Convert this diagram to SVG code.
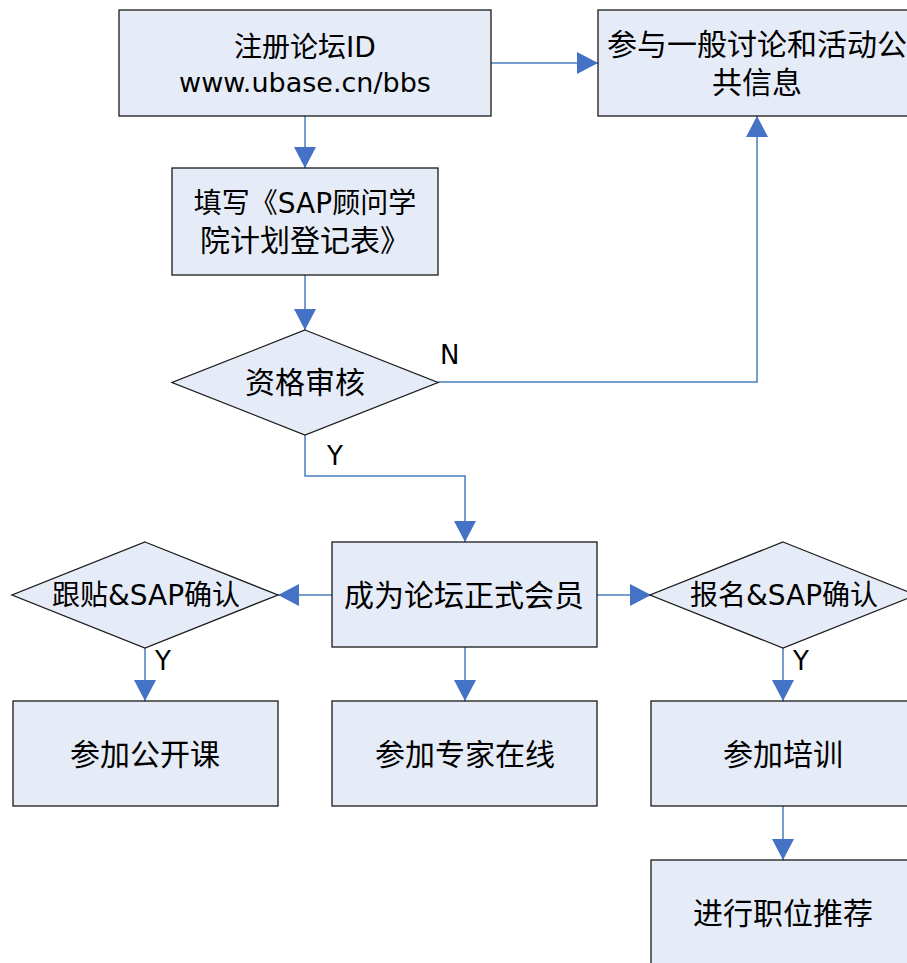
<svg xmlns="http://www.w3.org/2000/svg" width="907" height="963" viewBox="0 0 907 963">
<defs>
<style>
.n{fill:#E6ECF7;stroke:#1a1a1a;stroke-width:1.3}
.t{font-family:"DejaVu Sans","Noto Sans CJK SC",sans-serif;font-size:28px;fill:#000;text-anchor:middle}
.z{font-size:30px}
.c{fill:none;stroke:#4A7EBB;stroke-width:1.5}
.l{font-family:"DejaVu Sans","Noto Sans CJK SC",sans-serif;font-size:26px;fill:#000}
</style>
<marker id="a" markerWidth="22" markerHeight="22" refX="21" refY="11" orient="auto" markerUnits="userSpaceOnUse" viewBox="0 0 22 22">
<path d="M0,0 L21,11 L0,22 Z" fill="#4472C4"/>
</marker>
</defs>
<rect width="907" height="963" fill="#fff"/>
<g id="connectors">
<path class="c" d="M491,63 H598" marker-end="url(#a)"/>
<path class="c" d="M305,116 V168" marker-end="url(#a)"/>
<path class="c" d="M305,275 V330" marker-end="url(#a)"/>
<path class="c" d="M438,382 H757 V116" marker-end="url(#a)"/>
<path class="c" d="M305,435 V476 H465 V542" marker-end="url(#a)"/>
<path class="c" d="M332,595 H278" marker-end="url(#a)"/>
<path class="c" d="M597,595 H651" marker-end="url(#a)"/>
<path class="c" d="M145,648 V701" marker-end="url(#a)"/>
<path class="c" d="M465,647 V701" marker-end="url(#a)"/>
<path class="c" d="M783,648 V701" marker-end="url(#a)"/>
<path class="c" d="M783,806 V860" marker-end="url(#a)"/>
<text class="l" x="440" y="364">N</text>
<text class="l" x="327" y="465">Y</text>
<text class="l" x="155" y="670">Y</text>
<text class="l" x="793" y="670">Y</text>
</g>
<g id="register">
<rect class="n" x="119" y="10" width="372" height="106"/>
<text class="t" x="305" y="57">注册论坛ID</text>
<text class="t" x="305" y="92" style="font-size:27px">www.ubase.cn/bbs</text>
</g>
<g id="general">
<rect class="n" x="598" y="10" width="320" height="106"/>
<text class="t z" x="757" y="55">参与一般讨论和活动公</text>
<text class="t z" x="757" y="93">共信息</text>
</g>
<g id="form">
<rect class="n" x="172" y="168" width="266" height="107"/>
<text class="t" x="305" y="213">填写《SAP顾问学</text>
<text class="t z" x="305" y="251">院计划登记表》</text>
</g>
<g id="review">
<path class="n" d="M305,330 L438,382.5 L305,435 L172,382.5 Z"/>
<text class="t z" x="305" y="393">资格审核</text>
</g>
<g id="member">
<rect class="n" x="332" y="542" width="265" height="105"/>
<text class="t z" x="464" y="606">成为论坛正式会员</text>
</g>
<g id="post-confirm">
<path class="n" d="M145,542 L278,595 L145,648 L12,595 Z"/>
<text class="t" x="146" y="605">跟贴&amp;SAP确认</text>
</g>
<g id="signup-confirm">
<path class="n" d="M783,542 L916,595 L783,648 L650,595 Z"/>
<text class="t" x="784" y="605">报名&amp;SAP确认</text>
</g>
<g id="open-class">
<rect class="n" x="13" y="701" width="265" height="105"/>
<text class="t z" x="145" y="765">参加公开课</text>
</g>
<g id="expert">
<rect class="n" x="332" y="701" width="265" height="105"/>
<text class="t z" x="465" y="765">参加专家在线</text>
</g>
<g id="training">
<rect class="n" x="651" y="701" width="266" height="105"/>
<text class="t z" x="783" y="765">参加培训</text>
</g>
<g id="recommend">
<rect class="n" x="651" y="860" width="266" height="110"/>
<text class="t z" x="783" y="924">进行职位推荐</text>
</g>
</svg>
